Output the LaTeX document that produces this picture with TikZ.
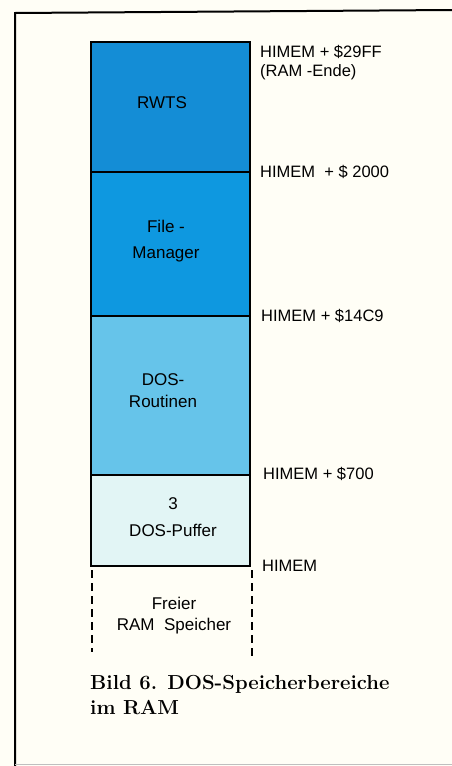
\documentclass[tikz,border=0pt]{standalone}
\usepackage{fontspec}
\setsansfont{Liberation Sans}
\definecolor{paper}{RGB}{255,254,246}
\definecolor{rwts}{RGB}{20,141,214}
\definecolor{fmgr}{RGB}{14,152,224}
\definecolor{dosr}{RGB}{102,196,234}
\definecolor{puff}{RGB}{226,245,245}

\begin{document}
\begin{tikzpicture}[x = 1pt, y = -1pt,
  addr/.style = {anchor = west, inner sep = 0pt, align = left,
    font = \sffamily\fontsize{16.5}{19}\selectfont},
  blk/.style = {inner sep = 0pt, align = center,
    font = \sffamily\fontsize{17}{23}\selectfont},
  bildtext/.style = {anchor = west, inner sep = 0pt, align = left,
    font = \bfseries\fontsize{20.3}{25}\selectfont}]
\useasboundingbox[fill = paper] (0,0) rectangle (452,766);
\begin{scope}
% frame
\draw[line width = 2pt] (15,766) -- (15,13) -- (452,10);
\draw[black!25] (15,764) -- (452,764);
% memory blocks
\draw[draw = none, fill = rwts] (91,42) rectangle (250,172);
\draw[draw = none, fill = fmgr] (91,172) rectangle (250,316);
\draw[draw = none, fill = dosr] (91,316) rectangle (250,475);
\draw[draw = none, fill = puff] (91,475) rectangle (250,566);
\draw[line width = 1.6pt] (91,566) -- (91,42) -- (250,42) -- (250,566) -- cycle;
\draw[line width = 1.4pt] (91,172) -- (250,172);
\draw[line width = 1.4pt] (91,316) -- (250,316);
\draw[line width = 1.4pt] (91,475) -- (250,475);
\draw[line width = 1.6pt, dash pattern = on 8pt off 5pt] (92,570) -- (92,652);
\draw[line width = 1.6pt, dash pattern = on 8pt off 5pt] (252,570) -- (252,657);
% block names
\node[blk] (rwtsname) at (162,103) {RWTS};
\node[blk, font = \sffamily\fontsize{17}{26}\selectfont] (fmgrname) at (166,241) {File -\\Manager};
\node[blk, font = \sffamily\fontsize{17}{22}\selectfont] (dosname) at (163,391) {DOS-\\Routinen};
\node[blk, font = \sffamily\fontsize{17}{27}\selectfont] (puffname) at (173,517) {3\\DOS-Puffer};
\node[blk, font = \sffamily\fontsize{17}{21}\selectfont] (freename) at (174,616) {Freier\\RAM\ \ Speicher};
% addresses
\node[addr] (a29ff) at (260,63) {HIMEM + \$29FF\\(RAM -Ende)};
\node[addr] (a2000) at (260,172) {HIMEM \ + \$ 2000};
\node[addr] (a14c9) at (261,316) {HIMEM + \$14C9};
\node[addr] (a700) at (263,474) {HIMEM + \$700};
\node[addr] (ahimem) at (262,566) {HIMEM};
% caption
\node[bildtext] (bild) at (90,695) {Bild 6. DOS-Speicherbereiche\\im RAM};
\end{scope}
\end{tikzpicture}
\end{document}
